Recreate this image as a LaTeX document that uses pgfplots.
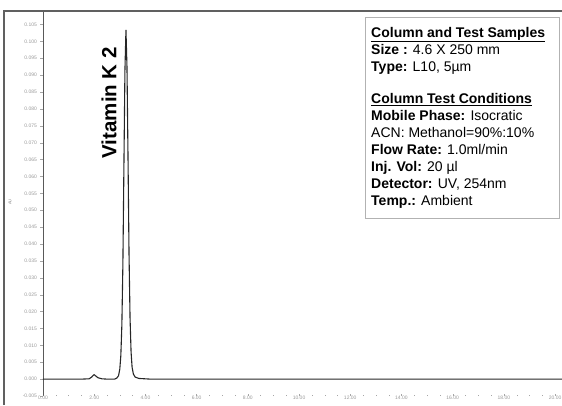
\documentclass[border=0pt]{standalone}
\usepackage{pgfplots}
\pgfplotsset{compat=1.18}
\usepackage{fontspec}
\setmainfont{Liberation Sans}
\begin{document}
\begin{tikzpicture}[x=1pt,y=1pt]
\path[use as bounding box] (0,0) rectangle (562,405);
\begin{axis}[
  at={(43pt,9pt)}, anchor=south west,
  scale only axis, width=519pt, height=385pt,
  xmin=0, xmax=20.27, ymin=-0.005, ymax=0.1091,
  axis lines*=left,
  x axis line style={draw=none},
  y axis line style={gray!70!black, line width=0.8pt},
  xtick={0,2,...,20}, minor x tick num=3,
  ytick={-0.005,0,0.005,...,0.1051}, minor y tick num=4,
  y tick style={gray!70, line width=0.3pt, /pgfplots/tick align=outside},
  x tick style={gray!70, line width=0.3pt},
  xtick align=inside, ytick align=outside,
  major tick length=2.5pt, minor tick length=1.5pt,
  /pgf/number format/assume math mode=true,
  xticklabel style={font=\fontsize{5}{6}\selectfont, text=gray!80, inner sep=0.5pt, yshift=0.5pt, /pgf/number format/.cd, fixed, fixed zerofill, precision=2},
  yticklabel style={font=\fontsize{5}{6}\selectfont, text=gray!80, /pgf/number format/.cd, fixed, fixed zerofill, precision=3},
  scaled y ticks=false, scaled x ticks=false,
  clip=false,
]
\addplot[black!85, line width=1.1pt] coordinates {
(0,0) (1.5,0) (1.8,0.0001) (1.9,0.0006) (1.97,0.0012) (2.0,0.0013) (2.05,0.0010) (2.15,0.0004) (2.3,0.0001) (2.5,0)
(2.8,0) (2.88,0.0003) (2.95,0.0010) (3.00,0.0030) (3.04,0.0070) (3.08,0.0160) (3.12,0.0340) (3.16,0.0630) (3.20,0.0915)
(3.24,0.1035) (3.28,0.0925) (3.32,0.0660) (3.36,0.0370) (3.40,0.0180) (3.44,0.0080) (3.48,0.0035) (3.53,0.0015)
(3.60,0.0006) (3.75,0.0002) (4.2,0) (20.27,0)
};
\node[rotate=90, font=\bfseries\fontsize{20.5}{24}\selectfont] at (axis cs:2.58,0.0819) {Vitamin K 2};
\end{axis}
\node[rotate=90, font=\fontsize{4}{5}\selectfont, text=gray] at (10,203) {AU};
\draw[gray!75!black, line width=1.6pt] (4,0) -- (4,394) -- (562,394);
\draw[gray!60, line width=0.6pt] (365,187) rectangle (559,388);
\node[anchor=north west, inner sep=0pt, align=left, font=\fontsize{14}{17}\selectfont] at (371,378) {%
\textbf{\underline{Column and Test Samples}}\\
\textbf{Size :} 4.6 X 250 mm\\
\textbf{Type:} L10, 5µm\\[15pt]
\textbf{\underline{Column Test Conditions}}\\
\textbf{Mobile Phase:} Isocratic\\
ACN: Methanol=90\%:10\%\\
\textbf{Flow Rate:} 1.0ml/min\\
\textbf{Inj. Vol:} 20 µl\\
\textbf{Detector:} UV, 254nm\\
\textbf{Temp.:} Ambient};
\end{tikzpicture}
\end{document}
